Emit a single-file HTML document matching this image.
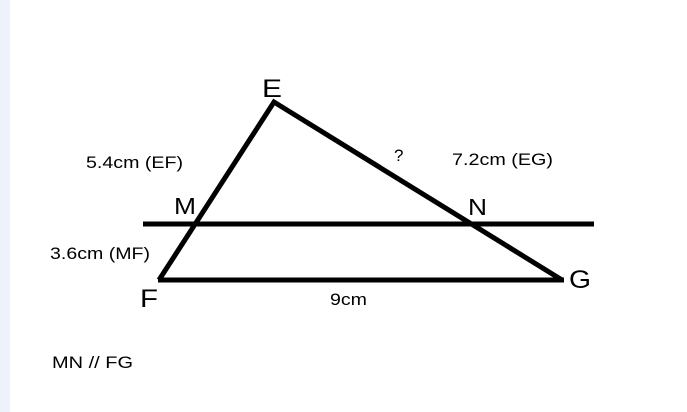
<!DOCTYPE html>
<html><head><style>
html,body{margin:0;padding:0;background:#fff;}
body{width:687px;height:412px;overflow:hidden;position:relative;font-family:"Liberation Sans",sans-serif;}
</style></head><body>
<svg width="687" height="412" style="position:absolute;left:0;top:0">
<rect x="0" y="0" width="10" height="412" fill="#eef2fa"/>
<g stroke="#000" stroke-width="5" fill="none" stroke-linecap="butt" stroke-linejoin="miter">
<polyline points="159,280 274,102 562,280"/>
<line x1="158" y1="280" x2="564" y2="280"/>
<line x1="143" y1="224" x2="594" y2="224"/>
</g>
<g font-family="Liberation Sans, sans-serif" fill="#000">
<text x="262" y="97" font-size="25" textLength="20" lengthAdjust="spacingAndGlyphs">E</text>
<text x="174" y="214" font-size="23" textLength="22" lengthAdjust="spacingAndGlyphs">M</text>
<text x="468" y="215" font-size="23" textLength="19" lengthAdjust="spacingAndGlyphs">N</text>
<text x="140" y="307" font-size="25" textLength="18" lengthAdjust="spacingAndGlyphs">F</text>
<text x="569" y="288" font-size="25" textLength="22" lengthAdjust="spacingAndGlyphs">G</text>
<text x="86" y="168" font-size="17" textLength="97" lengthAdjust="spacingAndGlyphs">5.4cm (EF)</text>
<text x="452" y="165" font-size="17" textLength="101" lengthAdjust="spacingAndGlyphs">7.2cm (EG)</text>
<text x="394" y="161" font-size="17">?</text>
<text x="50" y="259" font-size="17" textLength="100" lengthAdjust="spacingAndGlyphs">3.6cm (MF)</text>
<text x="330" y="305" font-size="17" textLength="37" lengthAdjust="spacingAndGlyphs">9cm</text>
<text x="52" y="368" font-size="17" textLength="81" lengthAdjust="spacingAndGlyphs">MN // FG</text>
</g>
</svg>
</body></html>
